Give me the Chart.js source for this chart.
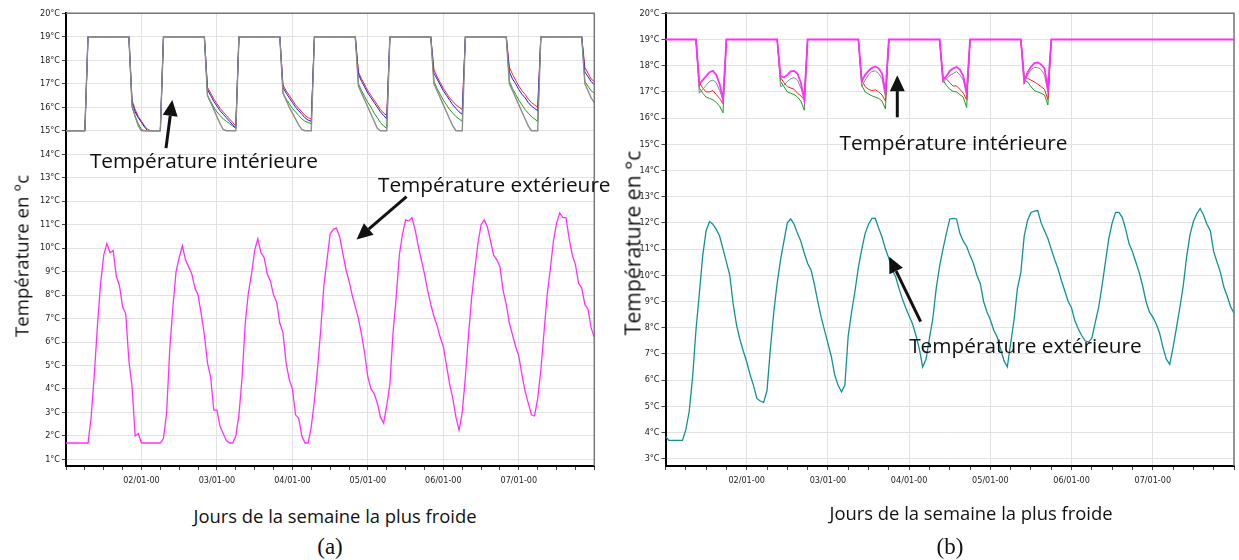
<!DOCTYPE html>
<html lang="fr">
<head>
<meta charset="utf-8">
<title>Températures de la semaine la plus froide</title>
<script src="https://cdn.jsdelivr.net/npm/chart.js@4.4.1/dist/chart.umd.min.js"></script>
<style>
  body { margin: 0; background: #fff; }
  #page { position: relative; width: 1239px; height: 560px; overflow: hidden; font-family: "Open Sans", Lato, sans-serif; color: #111; }
  canvas { position: absolute; top: 0; }
  #chartA { left: 0; }
  #chartB { left: 610px; }
  .txt { position: absolute; white-space: nowrap; transform: translate(-50%, -50%); }
  .vert { transform: translate(-50%, -50%) rotate(-90deg); }
  .lettre { font-family: "Liberation Serif", "Times New Roman", serif; font-size: 23px; }
</style>
</head>
<body>
<div id="page">
  <canvas id="chartA" width="610" height="500"></canvas>
  <canvas id="chartB" width="629" height="500"></canvas>

  <div class="txt vert" style="left:21px; top:256px; font-size:18.6px;">Température en °c</div>
  <div class="txt vert" style="left:632px; top:243px; font-size:21.2px;">Température en °c</div>
  <div class="txt" style="left:335px; top:515px; font-size:18.4px;">Jours de la semaine la plus froide</div>
  <div class="txt" style="left:971px; top:512px; font-size:18.4px;">Jours de la semaine la plus froide</div>
  <div class="txt lettre" style="left:330px; top:547px;">(a)</div>
  <div class="txt lettre" style="left:950px; top:547px;">(b)</div>
</div>

<script>
// heures depuis le 01/01 00:00 (pas horaire, 7 jours)
const heures = [];
for (let h = 0; h <= 168; h++) heures.push(h);

const joursLabels = ['02/01-00', '03/01-00', '04/01-00', '05/01-00', '06/01-00', '07/01-00'];
const graduationsX = [0, 6, 12, 18, 24, 30, 36, 42, 48, 54, 60, 66, 72, 78, 84, 90, 96, 102, 108, 114, 120, 126, 132, 138, 144, 150, 156, 162, 168];
const degresA = [1, 2, 3, 4, 5, 6, 7, 8, 9, 10, 11, 12, 13, 14, 15, 16, 17, 18, 19, 20];
const degresB = [3, 4, 5, 6, 7, 8, 9, 10, 11, 12, 13, 14, 15, 16, 17, 18, 19, 20];

// (a) consigne 19/15 : températures intérieures
const intGrisA = [
  15, 15, 15, 15, 15, 15, 15, 19, 19, 19, 19, 19, 19, 19, 19, 19, 19, 19, 19, 19, 19, 16.1, 15.6, 15.2,
  15.0, 15, 15, 15, 15, 15, 15, 19, 19, 19, 19, 19, 19, 19, 19, 19, 19, 19, 19, 19, 19, 16.5, 16.2, 15.9,
  15.6, 15.3, 15.05, 15, 15, 15, 15, 19, 19, 19, 19, 19, 19, 19, 19, 19, 19, 19, 19, 19, 19, 16.6, 16.3, 16.0,
  15.75, 15.5, 15.25, 15.05, 15, 15, 15, 19, 19, 19, 19, 19, 19, 19, 19, 19, 19, 19, 19, 19, 19, 16.9, 16.6, 16.3,
  16.0, 15.7, 15.4, 15.1, 15, 15, 15, 19, 19, 19, 19, 19, 19, 19, 19, 19, 19, 19, 19, 19, 19, 17.0, 16.7, 16.4,
  16.1, 15.8, 15.5, 15.2, 15.0, 15, 15, 19, 19, 19, 19, 19, 19, 19, 19, 19, 19, 19, 19, 19, 19, 17.0, 16.7, 16.4,
  16.1, 15.8, 15.5, 15.2, 15.0, 15, 15, 19, 19, 19, 19, 19, 19, 19, 19, 19, 19, 19, 19, 19, 19, 17.0, 16.7, 16.4,
  16.2
];
const intVertA = [
  15, 15, 15, 15, 15, 15, 15, 19, 19, 19, 19, 19, 19, 19, 19, 19, 19, 19, 19, 19, 19, 16.0, 15.6, 15.3,
  15.05, 15, 15, 15, 15, 15, 15, 19, 19, 19, 19, 19, 19, 19, 19, 19, 19, 19, 19, 19, 19, 16.5, 16.25, 16.0,
  15.8, 15.65, 15.5, 15.4, 15.3, 15.2, 15.12, 19, 19, 19, 19, 19, 19, 19, 19, 19, 19, 19, 19, 19, 19, 16.6, 16.35, 16.15,
  15.95, 15.8, 15.65, 15.5, 15.4, 15.35, 15.3, 19, 19, 19, 19, 19, 19, 19, 19, 19, 19, 19, 19, 19, 19, 17.0, 16.7, 16.45,
  16.2, 16.0, 15.75, 15.55, 15.35, 15.2, 15.1, 19, 19, 19, 19, 19, 19, 19, 19, 19, 19, 19, 19, 19, 19, 17.1, 16.8, 16.55,
  16.3, 16.1, 15.9, 15.75, 15.6, 15.5, 15.4, 19, 19, 19, 19, 19, 19, 19, 19, 19, 19, 19, 19, 19, 19, 17.1, 16.8, 16.55,
  16.3, 16.1, 15.9, 15.75, 15.6, 15.5, 15.4, 19, 19, 19, 19, 19, 19, 19, 19, 19, 19, 19, 19, 19, 19, 17.1, 16.9, 16.7,
  16.6
];
const intBleuA = [
  15, 15, 15, 15, 15, 15, 15, 19, 19, 19, 19, 19, 19, 19, 19, 19, 19, 19, 19, 19, 19, 16.2, 15.8, 15.55,
  15.35, 15.15, 15.0, 15, 15, 15, 15, 19, 19, 19, 19, 19, 19, 19, 19, 19, 19, 19, 19, 19, 19, 16.75, 16.5, 16.25,
  16.05, 15.85, 15.7, 15.55, 15.4, 15.25, 15.1, 19, 19, 19, 19, 19, 19, 19, 19, 19, 19, 19, 19, 19, 19, 16.85, 16.6, 16.4,
  16.2, 16.0, 15.85, 15.7, 15.55, 15.45, 15.4, 19, 19, 19, 19, 19, 19, 19, 19, 19, 19, 19, 19, 19, 19, 17.4, 17.1, 16.85,
  16.6, 16.4, 16.2, 16.0, 15.8, 15.65, 15.5, 19, 19, 19, 19, 19, 19, 19, 19, 19, 19, 19, 19, 19, 19, 17.45, 17.2, 16.95,
  16.7, 16.5, 16.3, 16.1, 15.95, 15.8, 15.7, 19, 19, 19, 19, 19, 19, 19, 19, 19, 19, 19, 19, 19, 19, 17.5, 17.2, 17.0,
  16.75, 16.55, 16.4, 16.2, 16.05, 15.95, 15.85, 19, 19, 19, 19, 19, 19, 19, 19, 19, 19, 19, 19, 19, 19, 17.5, 17.3, 17.1,
  16.95
];
const intRougeA = [
  15, 15, 15, 15, 15, 15, 15, 19, 19, 19, 19, 19, 19, 19, 19, 19, 19, 19, 19, 19, 19, 16.3, 15.9, 15.6,
  15.4, 15.2, 15.05, 15, 15, 15, 15, 19, 19, 19, 19, 19, 19, 19, 19, 19, 19, 19, 19, 19, 19, 16.85, 16.6, 16.35,
  16.15, 15.95, 15.8, 15.65, 15.5, 15.35, 15.2, 19, 19, 19, 19, 19, 19, 19, 19, 19, 19, 19, 19, 19, 19, 16.95, 16.7, 16.5,
  16.3, 16.1, 15.95, 15.8, 15.65, 15.55, 15.5, 19, 19, 19, 19, 19, 19, 19, 19, 19, 19, 19, 19, 19, 19, 17.5, 17.2, 16.95,
  16.7, 16.5, 16.3, 16.1, 15.9, 15.75, 15.65, 19, 19, 19, 19, 19, 19, 19, 19, 19, 19, 19, 19, 19, 19, 17.6, 17.3, 17.05,
  16.8, 16.6, 16.4, 16.25, 16.1, 16.0, 15.9, 19, 19, 19, 19, 19, 19, 19, 19, 19, 19, 19, 19, 19, 19, 17.7, 17.4, 17.15,
  16.9, 16.7, 16.55, 16.35, 16.2, 16.1, 16.0, 19, 19, 19, 19, 19, 19, 19, 19, 19, 19, 19, 19, 19, 19, 17.7, 17.45, 17.2,
  17.1
];
// (a) température extérieure
const extA = [
  1.7, 1.7, 1.7, 1.7, 1.7, 1.7, 1.7, 1.7, 2.8, 4.6, 6.7, 8.5, 9.7, 10.2, 9.8, 9.9, 8.8, 8.4, 7.5, 7.2, 5.2, 4.1, 2.0, 2.1,
  1.7, 1.7, 1.7, 1.7, 1.7, 1.7, 1.7, 1.9, 3.0, 5.7, 7.5, 9.0, 9.6, 10.1, 9.5, 9.2, 8.9, 8.3, 8.0, 7.2, 6.3, 5.1, 4.5, 3.1,
  3.1, 2.4, 2.1, 1.8, 1.7, 1.7, 2.0, 2.9, 4.5, 6.8, 8.1, 8.9, 9.9, 10.4, 9.8, 9.6, 8.9, 8.6, 8.0, 7.7, 6.8, 6.4, 5.1, 4.4,
  4.0, 2.9, 2.75, 2.0, 1.7, 1.7, 2.4, 3.5, 4.9, 6.5, 8.4, 9.5, 10.6, 10.8, 10.85, 10.5, 9.8, 9.1, 8.6, 8.0, 7.5, 7.0, 6.3, 5.5,
  4.5, 4.0, 3.8, 3.4, 2.8, 2.55, 3.3, 4.2, 6.4, 7.9, 9.7, 10.6, 11.2, 11.15, 11.3, 10.8, 10.1, 9.5, 8.9, 8.2, 7.6, 7.1, 6.7, 6.2,
  5.8, 5.0, 4.2, 3.6, 2.8, 2.25, 3.0, 4.5, 6.3, 7.9, 9.1, 10.2, 11.0, 11.2, 10.9, 10.3, 9.7, 9.5, 9.2, 8.2, 7.6, 6.8, 6.3, 5.8,
  5.4, 4.6, 3.9, 3.4, 2.9, 2.85, 3.6, 4.8, 6.4, 8.0, 9.1, 10.3, 11.06, 11.5, 11.3, 11.3, 10.4, 9.7, 9.3, 8.5, 8.3, 7.6, 7.4, 6.6,
  6.2
];

// (b) consigne 19 °C : températures intérieures
const intMagentaB = [
  19, 19, 19, 19, 19, 19, 19, 19, 19, 19, 17.3, 17.45, 17.6, 17.75, 17.8, 17.65, 17.3, 16.7, 19, 19, 19, 19, 19, 19,
  19, 19, 19, 19, 19, 19, 19, 19, 19, 19, 17.6, 17.55, 17.65, 17.78, 17.8, 17.7, 17.35, 16.7, 19, 19, 19, 19, 19, 19,
  19, 19, 19, 19, 19, 19, 19, 19, 19, 19, 17.4, 17.65, 17.8, 17.92, 17.97, 17.9, 17.7, 17.0, 19, 19, 19, 19, 19, 19,
  19, 19, 19, 19, 19, 19, 19, 19, 19, 19, 17.45, 17.6, 17.8, 17.9, 17.95, 17.85, 17.6, 17.0, 19, 19, 19, 19, 19, 19,
  19, 19, 19, 19, 19, 19, 19, 19, 19, 19, 17.4, 17.75, 17.95, 18.1, 18.12, 18.05, 17.9, 17.1, 19, 19, 19, 19, 19, 19,
  19, 19, 19, 19, 19, 19, 19, 19, 19, 19, 19, 19, 19, 19, 19, 19, 19, 19, 19, 19, 19, 19, 19, 19,
  19, 19, 19, 19, 19, 19, 19, 19, 19, 19, 19, 19, 19, 19, 19, 19, 19, 19, 19, 19, 19, 19, 19, 19,
  19
];
const intGrisB = [
  19, 19, 19, 19, 19, 19, 19, 19, 19, 19, 16.95, 17.1, 17.25, 17.4, 17.45, 17.35, 17.05, 16.7, 19, 19, 19, 19, 19, 19,
  19, 19, 19, 19, 19, 19, 19, 19, 19, 19, 17.2, 17.25, 17.4, 17.5, 17.55, 17.45, 17.15, 16.8, 19, 19, 19, 19, 19, 19,
  19, 19, 19, 19, 19, 19, 19, 19, 19, 19, 17.2, 17.45, 17.65, 17.78, 17.8, 17.7, 17.5, 16.8, 19, 19, 19, 19, 19, 19,
  19, 19, 19, 19, 19, 19, 19, 19, 19, 19, 17.35, 17.5, 17.62, 17.7, 17.78, 17.65, 17.45, 16.85, 19, 19, 19, 19, 19, 19,
  19, 19, 19, 19, 19, 19, 19, 19, 19, 19, 17.3, 17.65, 17.85, 17.93, 17.93, 17.85, 17.65, 17.0, 19, 19, 19, 19, 19, 19,
  19, 19, 19, 19, 19, 19, 19, 19, 19, 19, 19, 19, 19, 19, 19, 19, 19, 19, 19, 19, 19, 19, 19, 19,
  19, 19, 19, 19, 19, 19, 19, 19, 19, 19, 19, 19, 19, 19, 19, 19, 19, 19, 19, 19, 19, 19, 19, 19,
  19
];
const intRougeB = [
  19, 19, 19, 19, 19, 19, 19, 19, 19, 19, 17.35, 17.15, 17.0, 17.0, 17.05, 16.9, 16.75, 16.55, 19, 19, 19, 19, 19, 19,
  19, 19, 19, 19, 19, 19, 19, 19, 19, 19, 17.55, 17.35, 17.2, 17.15, 17.1, 16.95, 16.85, 16.7, 19, 19, 19, 19, 19, 19,
  19, 19, 19, 19, 19, 19, 19, 19, 19, 19, 17.45, 17.2, 17.1, 17.05, 17.08, 17.0, 16.88, 16.65, 19, 19, 19, 19, 19, 19,
  19, 19, 19, 19, 19, 19, 19, 19, 19, 19, 17.6, 17.5, 17.35, 17.22, 17.23, 17.1, 16.95, 16.7, 19, 19, 19, 19, 19, 19,
  19, 19, 19, 19, 19, 19, 19, 19, 19, 19, 17.6, 17.52, 17.45, 17.38, 17.3, 17.2, 17.1, 16.7, 19, 19, 19, 19, 19, 19,
  19, 19, 19, 19, 19, 19, 19, 19, 19, 19, 19, 19, 19, 19, 19, 19, 19, 19, 19, 19, 19, 19, 19, 19,
  19, 19, 19, 19, 19, 19, 19, 19, 19, 19, 19, 19, 19, 19, 19, 19, 19, 19, 19, 19, 19, 19, 19, 19,
  19
];
const intVertB = [
  19, 19, 19, 19, 19, 19, 19, 19, 19, 19, 17.15, 16.95, 16.8, 16.75, 16.7, 16.6, 16.45, 16.2, 19, 19, 19, 19, 19, 19,
  19, 19, 19, 19, 19, 19, 19, 19, 19, 19, 17.4, 17.2, 17.0, 16.95, 16.9, 16.8, 16.65, 16.3, 19, 19, 19, 19, 19, 19,
  19, 19, 19, 19, 19, 19, 19, 19, 19, 19, 17.25, 17.0, 16.92, 16.85, 16.8, 16.75, 16.65, 16.35, 19, 19, 19, 19, 19, 19,
  19, 19, 19, 19, 19, 19, 19, 19, 19, 19, 17.45, 17.25, 17.1, 17.02, 17.0, 16.9, 16.8, 16.4, 19, 19, 19, 19, 19, 19,
  19, 19, 19, 19, 19, 19, 19, 19, 19, 19, 17.45, 17.38, 17.2, 17.05, 17.0, 16.95, 16.88, 16.5, 19, 19, 19, 19, 19, 19,
  19, 19, 19, 19, 19, 19, 19, 19, 19, 19, 19, 19, 19, 19, 19, 19, 19, 19, 19, 19, 19, 19, 19, 19,
  19, 19, 19, 19, 19, 19, 19, 19, 19, 19, 19, 19, 19, 19, 19, 19, 19, 19, 19, 19, 19, 19, 19, 19,
  19
];
// (b) température extérieure
const extB = [
  3.85, 3.7, 3.7, 3.7, 3.7, 3.7, 4.1, 4.8, 6.1, 7.9, 9.3, 10.75, 11.7, 12.05, 11.95, 11.75, 11.5, 11.0, 10.5, 10.0, 8.9, 8.1, 7.55, 7.1,
  6.7, 6.2, 5.8, 5.3, 5.2, 5.15, 5.6, 7.2, 8.6, 9.7, 10.6, 11.3, 12.0, 12.15, 11.95, 11.6, 11.3, 10.85, 10.45, 10.2, 9.65, 9.0, 8.4, 7.9,
  7.4, 6.9, 6.2, 5.8, 5.55, 5.8, 7.7, 8.6, 9.4, 10.3, 11.0, 11.6, 11.95, 12.17, 12.17, 11.8, 11.45, 11.0, 10.65, 10.2, 9.95, 9.5, 9.1, 8.75,
  8.45, 8.15, 7.7, 7.2, 6.5, 6.8, 7.6, 8.35, 9.5, 10.35, 11.0, 11.6, 12.15, 12.17, 12.15, 11.6, 11.3, 11.1, 10.75, 10.45, 10.0, 9.7, 9.0, 8.6,
  8.3, 7.9, 7.65, 7.2, 6.75, 6.5, 7.4, 8.3, 9.5, 10.1, 11.5, 12.1, 12.4, 12.45, 12.47, 12.0, 11.7, 11.4, 11.0, 10.6, 10.25, 9.8, 9.4, 9.0,
  8.75, 8.25, 7.95, 7.7, 7.5, 7.45, 7.6, 8.2, 8.77, 9.6, 10.5, 11.4, 12.0, 12.4, 12.4, 12.2, 11.75, 11.2, 10.9, 10.5, 10.1, 9.6, 9.0, 8.6,
  8.4, 8.15, 7.8, 7.25, 6.8, 6.6, 7.25, 8.0, 8.77, 9.6, 10.7, 11.55, 12.05, 12.35, 12.55, 12.3, 11.95, 11.7, 10.9, 10.5, 10.1, 9.55, 9.2, 8.8,
  8.55
];

// annotations (positions en heures / °C)
const notesA = {
  textes: [
    { x: 7.6, y: 13.41, t: 'Température intérieure' },
    { x: 99.2, y: 12.4, t: 'Température extérieure' }
  ],
  fleches: [
    { de: [31.8, 14.26], vers: [33.8, 16.31] },
    { de: [108.3, 12.19], vers: [92.4, 10.37] }
  ]
};
const notesB = {
  textes: [
    { x: 51.4, y: 14.8, t: 'Température intérieure' },
    { x: 72.0, y: 7.02, t: 'Température extérieure' }
  ],
  fleches: [
    { de: [68.5, 16.03], vers: [68.5, 17.64] },
    { de: [75.4, 8.23], vers: [66.1, 10.71] }
  ]
};

const petiteFonte = { family: "'DejaVu Sans Condensed', 'Liberation Sans Narrow', sans-serif", size: 9 };

function serie(valeurs, couleur, largeur, ordre) {
  return {
    data: heures.map((h, i) => ({ x: h, y: valeurs[i] })),
    borderColor: couleur,
    borderWidth: largeur,
    pointRadius: 0,
    tension: 0,
    fill: false,
    order: ordre
  };
}

function fleche(ctx, x1, y1, x2, y2) {
  const a = Math.atan2(y2 - y1, x2 - x1);
  const L = 16, W = 7.5;
  const bx = x2 - L * Math.cos(a), by = y2 - L * Math.sin(a);
  ctx.beginPath();
  ctx.moveTo(x1, y1);
  ctx.lineTo(bx, by);
  ctx.lineWidth = 3;
  ctx.stroke();
  ctx.beginPath();
  ctx.moveTo(x2, y2);
  ctx.lineTo(bx + W * Math.sin(a), by - W * Math.cos(a));
  ctx.lineTo(bx - W * Math.sin(a), by + W * Math.cos(a));
  ctx.closePath();
  ctx.fill();
}

// cadre haut/droite + textes et flèches
const habillage = {
  id: 'habillage',
  afterDraw(chart, args, opts) {
    const { ctx, chartArea: ca, scales } = chart;
    ctx.save();
    ctx.strokeStyle = '#777';
    ctx.lineWidth = 1.5;
    ctx.beginPath();
    ctx.moveTo(ca.left, ca.top);
    ctx.lineTo(ca.right, ca.top);
    ctx.lineTo(ca.right, ca.bottom);
    ctx.stroke();

    ctx.fillStyle = '#111';
    ctx.strokeStyle = '#111';
    ctx.font = "20.8px 'Open Sans', Lato, sans-serif";
    ctx.textBaseline = 'alphabetic';
    ctx.textAlign = 'left';
    opts.textes.forEach(n => {
      ctx.fillText(n.t, scales.x.getPixelForValue(n.x), scales.y.getPixelForValue(n.y));
    });
    opts.fleches.forEach(f => {
      fleche(ctx,
        scales.x.getPixelForValue(f.de[0]), scales.y.getPixelForValue(f.de[1]),
        scales.x.getPixelForValue(f.vers[0]), scales.y.getPixelForValue(f.vers[1]));
    });
    ctx.restore();
  }
};

function options(yMin, degres, largeurAxeY, margeDroite, notes) {
  return {
    responsive: false,
    animation: false,
    events: [],
    layout: { padding: { left: 0, right: margeDroite, top: 13.3, bottom: 0 } },
    plugins: { legend: { display: false }, tooltip: { enabled: false }, habillage: notes },
    scales: {
      x: {
        type: 'linear', min: 0, max: 168,
        afterBuildTicks: s => { s.ticks = graduationsX.map(v => ({ value: v })); },
        afterFit: s => { s.height = 34; },
        ticks: {
          autoSkip: false, maxRotation: 0, padding: 5, color: '#222', font: petiteFonte,
          callback: v => {
            const j = v / 24;
            return (v % 24 === 0 && j >= 1 && j <= 6) ? joursLabels[j - 1] : '';
          }
        },
        grid: {
          color: c => (c.tick && c.tick.value % 24 === 0) ? '#e2e2e2' : 'rgba(0,0,0,0)',
          tickColor: '#444', tickLength: 4, lineWidth: 1
        },
        border: { color: '#000', width: 2 }
      },
      y: {
        min: yMin, max: 20,
        afterBuildTicks: s => { s.ticks = degres.map(v => ({ value: v })); },
        afterFit: s => { s.width = largeurAxeY; },
        ticks: { padding: 2, color: '#222', font: petiteFonte, callback: v => v + '°C' },
        grid: { color: '#e2e2e2', tickColor: '#444', tickLength: 4, lineWidth: 1 },
        border: { color: '#000', width: 2 }
      }
    }
  };
}

new Chart(document.getElementById('chartA'), {
  type: 'line',
  data: {
    datasets: [
      serie(intGrisA, '#8c8c8c', 1.4, 0),
      serie(intBleuA, '#1a1aff', 1, 1),
      serie(intVertA, '#1f9a1f', 1, 2),
      serie(intRougeA, '#ff2222', 1, 3),
      serie(extA, '#ff30ff', 1.3, 4)
    ]
  },
  options: options(0.72, degresA, 66, 15.7, notesA),
  plugins: [habillage]
});

new Chart(document.getElementById('chartB'), {
  type: 'line',
  data: {
    datasets: [
      serie(intMagentaB, '#ff30ff', 1.8, 0),
      serie(intGrisB, '#8a8a8a', 1, 1),
      serie(intRougeB, '#ff2222', 1, 2),
      serie(intVertB, '#1f9a1f', 1, 3),
      serie(extB, '#129191', 1.3, 4)
    ]
  },
  options: options(2.72, degresB, 55.5, 3, notesB),
  plugins: [habillage]
});
</script>
</body>
</html>
